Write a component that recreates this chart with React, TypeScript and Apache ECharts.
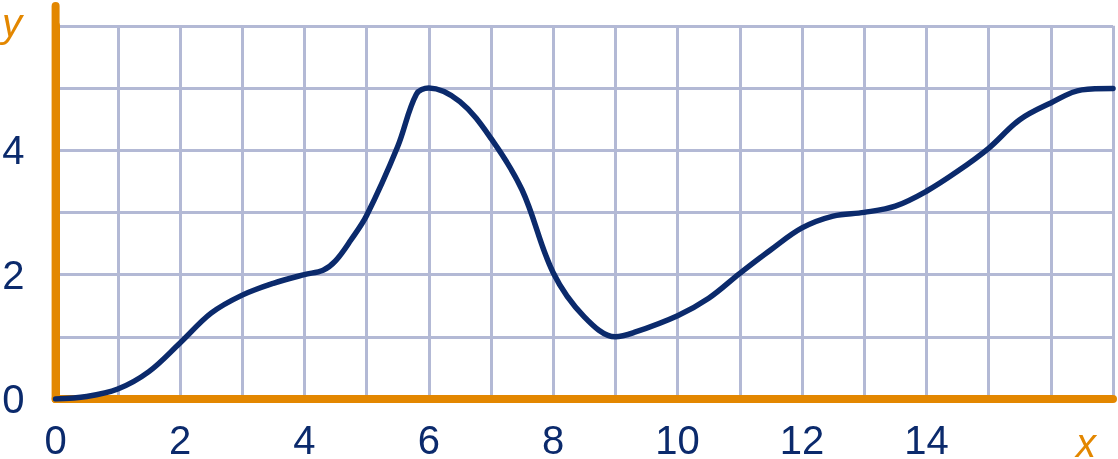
import React, { useEffect, useRef } from "react";
import * as echarts from "echarts";

const xValues = [0, 0.5, 1, 1.5, 2, 2.5, 3, 3.5, 4, 4.3, 4.5, 4.75, 5, 5.5, 5.8, 6, 6.5, 7, 7.5, 8, 8.5, 9, 9.3, 10, 10.5, 11, 11.5, 12, 12.5, 13, 13.5, 14, 14.5, 15, 15.5, 16, 16.5, 17];
const yValues = [0, 0.04, 0.16, 0.44, 0.9, 1.38, 1.67, 1.86, 2.0, 2.07, 2.22, 2.56, 2.95, 4.06, 4.9, 5.0, 4.78, 4.19, 3.36, 2.03, 1.32, 1.0, 1.07, 1.34, 1.62, 2.02, 2.4, 2.75, 2.94, 3.0, 3.1, 3.34, 3.66, 4.03, 4.49, 4.76, 4.97, 4.99];
const xTickLabels = ["0", "2", "4", "6", "8", "10", "12", "14"];
const yTickLabels = ["0", "2", "4"];

const NAVY = "#0b2a6c";
const ORANGE = "#e38700";
const GRIDC = "#b3b9d5";
const FONT = "'Liberation Sans', Arial, sans-serif";

export default function App() {
  const ref = useRef<HTMLDivElement>(null);
  useEffect(() => {
    if (!ref.current) return;
    const chart = echarts.init(ref.current, null, { renderer: "svg" });
    const gl = 55.6, gt = 25.8, gw = 1057.4, gh = 373.2;
    chart.setOption({
      animation: false,
      grid: { left: gl, top: gt, width: gw, height: gh, outerBoundsMode: "none" },
      xAxis: {
        type: "value",
        min: 0,
        max: 17,
        interval: 1,
        axisLine: { show: true, lineStyle: { color: ORANGE, width: 8, cap: "round" } },
        axisTick: { show: false },
        splitLine: { show: true, lineStyle: { color: GRIDC, width: 3 } },
        axisLabel: {
          color: NAVY,
          fontSize: 40,
          fontFamily: FONT,
          margin: 21,
          formatter: (v: number) => (xTickLabels.includes(String(v)) ? String(v) : ""),
        },
      },
      yAxis: {
        type: "value",
        min: 0,
        max: 6,
        interval: 1,
        axisLine: { show: true, lineStyle: { color: ORANGE, width: 8, cap: "round" } },
        axisTick: { show: false },
        splitLine: { show: true, lineStyle: { color: GRIDC, width: 3 } },
        axisLabel: {
          color: NAVY,
          fontSize: 40,
          fontFamily: FONT,
          margin: 31,
          formatter: (v: number) => (yTickLabels.includes(String(v)) ? String(v) : ""),
        },
      },
      graphic: [
        {
          type: "line",
          z: 1,
          shape: { x1: gl, y1: gt + gh, x2: gl, y2: 6 },
          style: { stroke: ORANGE, lineWidth: 8, lineCap: "round" },
        },
        {
          type: "text",
          x: 12,
          y: 23,
          style: { text: "y", fill: ORANGE, fontSize: 40, fontStyle: "italic", fontFamily: FONT, align: "center", verticalAlign: "middle" },
        },
        {
          type: "text",
          x: 1086,
          y: 443,
          style: { text: "x", fill: ORANGE, fontSize: 40, fontStyle: "italic", fontFamily: FONT, align: "center", verticalAlign: "middle" },
        },
      ],
      series: [
        {
          type: "line",
          data: xValues.map((x, i) => [x, yValues[i]]),
          smooth: 0.35,
          symbol: "none",
          z: 5,
          lineStyle: { color: NAVY, width: 5.5, cap: "round", join: "round" },
        },
      ],
    });
    return () => chart.dispose();
  }, []);
  return <div ref={ref} style={{ position: "fixed", left: 0, top: 0, width: 1118, height: 459 }} />;
}
